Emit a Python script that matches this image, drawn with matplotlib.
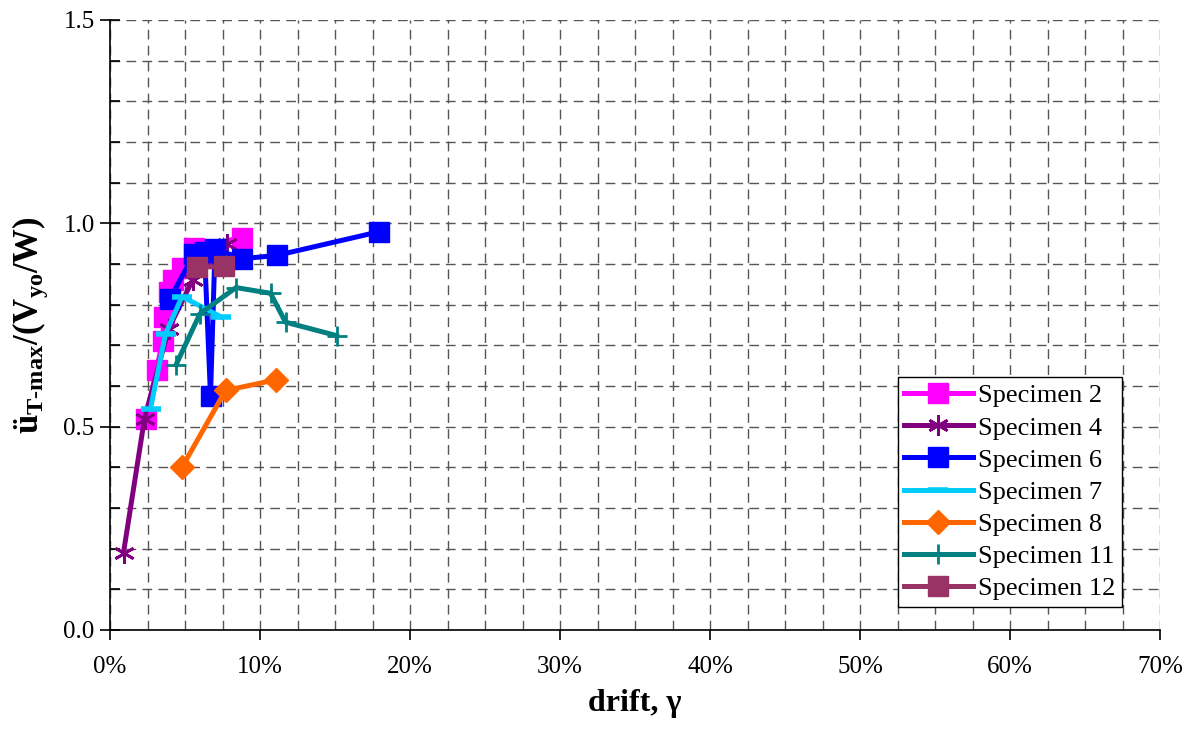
import matplotlib
matplotlib.use("Agg")
import matplotlib.pyplot as plt
from matplotlib.ticker import MultipleLocator, FuncFormatter

plt.rcParams['font.family'] = ['Liberation Serif', 'DejaVu Serif']
plt.rcParams['mathtext.fontset'] = 'custom'
plt.rcParams['mathtext.rm'] = 'Liberation Serif'
plt.rcParams['mathtext.bf'] = 'Liberation Serif:bold'
plt.rcParams['mathtext.it'] = 'Liberation Serif:italic'

# drift in percent, normalized acceleration
s2_x = [2.4, 3.1, 3.5, 3.6, 3.9, 4.2, 4.8, 5.6, 8.8]
s2_y = [0.52, 0.64, 0.71, 0.77, 0.83, 0.86, 0.89, 0.94, 0.965]
s4_x = [0.9, 2.3, 3.9, 5.5, 7.8]
s4_y = [0.19, 0.52, 0.74, 0.86, 0.95]
s6_x = [4.0, 5.6, 6.3, 6.7, 7.0, 8.8, 11.1, 17.9]
s6_y = [0.814, 0.925, 0.93, 0.576, 0.937, 0.913, 0.921, 0.979]
s7_x = [2.7, 3.7, 4.8, 7.4]
s7_y = [0.544, 0.728, 0.82, 0.77]
s8_x = [4.8, 7.7, 11.05]
s8_y = [0.40, 0.589, 0.615]
s11_x = [4.4, 6.0, 8.4, 10.7, 11.7, 15.1]
s11_y = [0.652, 0.778, 0.842, 0.828, 0.757, 0.724]
s12_x = [5.8, 7.6]
s12_y = [0.892, 0.894]

labels = ['Specimen 2', 'Specimen 4', 'Specimen 6', 'Specimen 7',
          'Specimen 8', 'Specimen 11', 'Specimen 12']

fig = plt.figure(figsize=(11.92, 7.32), dpi=100)
ax = fig.add_axes([110/1192, 1-630/732, 1050/1192, 610/732])

lw = 3.6
ax.plot(s2_x, s2_y, color='#FF00FF', lw=lw, marker='s', ms=14, mec='#FF00FF', label=labels[0])
ax.plot(s4_x, s4_y, color='#800080', lw=lw, marker=(6, 2, 0), ms=15, mew=2.0, mec='#800080', label=labels[1])
ax.plot(s6_x, s6_y, color='#0000FF', lw=lw, marker='s', ms=14, mec='#0000FF', label=labels[2])
ax.plot(s7_x, s7_y, color='#00CCFF', lw=lw, marker='_', ms=15, mew=4, mec='#00CCFF', label=labels[3])
ax.plot(s8_x, s8_y, color='#FF6600', lw=lw, marker='D', ms=12, mec='#FF6600', label=labels[4])
ax.plot(s11_x, s11_y, color='#008080', lw=lw, marker='+', ms=15, mew=2.0, mec='#008080', label=labels[5])
ax.plot(s12_x, s12_y, color='#993366', lw=lw, marker='s', ms=14, mec='#993366', label=labels[6])

ax.set_xlim(0, 70)
ax.set_ylim(0, 1.5)
ax.xaxis.set_major_locator(MultipleLocator(10))
ax.xaxis.set_minor_locator(MultipleLocator(2.5))
ax.yaxis.set_major_locator(MultipleLocator(0.5))
ax.yaxis.set_minor_locator(MultipleLocator(0.1))
ax.xaxis.set_major_formatter(FuncFormatter(lambda v, p: f'{v:.0f}%'))
ax.yaxis.set_major_formatter(FuncFormatter(lambda v, p: f'{v:.1f}'))

ax.grid(True, which='both', axis='both', color='#555555', lw=1.0, ls=(0, (7, 4.5)))
ax.set_axisbelow(True)

for s in ['top', 'right']:
    ax.spines[s].set_visible(False)
for s in ['left', 'bottom']:
    ax.spines[s].set_linewidth(1.2)
    ax.spines[s].set_color('black')

ax.tick_params(axis='x', which='major', direction='out', length=7, width=1.2, labelsize=18, pad=12)
ax.tick_params(axis='x', which='minor', length=0)
ax.tick_params(axis='y', which='major', direction='inout', length=14, width=1.2, labelsize=18, pad=4)
ax.tick_params(axis='y', which='minor', direction='in', length=7, width=1.2)

ax.set_xlabel('drift, γ', fontsize=23, fontweight='bold', labelpad=8)
ax.set_ylabel(r'ü$_{\mathbf{T\text{-}max}}$/(V$_{\mathbf{yo}}$/W)', fontsize=25, fontweight='bold', labelpad=10)

leg = ax.legend(loc='lower right', bbox_to_anchor=(0.9638, 0.0377), fontsize=19,
                frameon=True, fancybox=False, edgecolor='black', framealpha=1,
                handlelength=2.6, handletextpad=0.2, labelspacing=0.33,
                borderpad=0.25, borderaxespad=0, numpoints=1)
leg.get_frame().set_linewidth(1.0)

fig.savefig('out.png', dpi=100)
